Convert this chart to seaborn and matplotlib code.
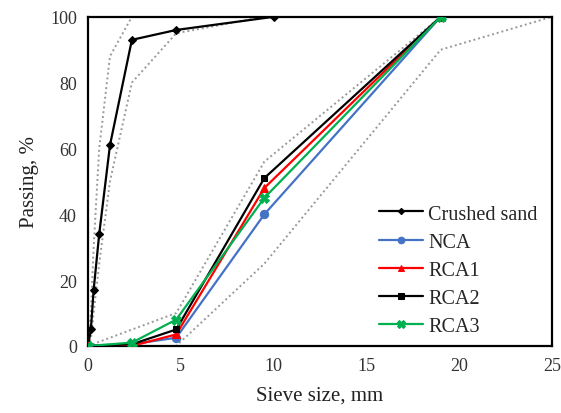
import matplotlib
matplotlib.use("Agg")
import matplotlib.pyplot as plt
import seaborn as sns
import pandas as pd

sns.set_theme(style="white")
plt.rcParams['font.family'] = ['Liberation Serif', 'DejaVu Serif']

# Data
sand_x = [0.0, 0.15, 0.3, 0.6, 1.18, 2.36, 4.75, 10.0]
sand_y = [0, 5, 17, 34, 61, 93, 96, 100]

coarse_x = [0.0, 2.36, 4.75, 9.5, 19.0]
nca_y = [0, 0.5, 2.5, 40, 100]
rca1_y = [0, 0, 3.5, 48, 100]
rca2_y = [0, 0.5, 5, 51, 100]
rca3_y = [0, 1, 8, 45, 100]

sand_up_x = [0.0, 0.15, 0.3, 0.6, 1.18, 2.36, 4.75, 9.5]
sand_up_y = [0, 10, 30, 60, 88, 100, 100, 100]
sand_lo_x = [0.0, 0.15, 0.3, 0.6, 1.18, 2.36, 4.75, 9.5]
sand_lo_y = [0, 2, 10, 25, 50, 80, 95, 100]

coarse_up_x = [0.0, 4.75, 9.5, 19.0, 25.0]
coarse_up_y = [0, 10, 56, 100, 100]
coarse_lo_x = [0.0, 4.75, 9.5, 19.0, 25.0]
coarse_lo_y = [0, 0, 25, 90, 100]

series = [
    ("Crushed sand", sand_x, sand_y, "black", "D", 4),
    ("NCA", coarse_x, nca_y, "#4472C4", "o", 6),
    ("RCA1", coarse_x, rca1_y, "#FF0000", "^", 6),
    ("RCA2", coarse_x, rca2_y, "black", "s", 5),
    ("RCA3", coarse_x, rca3_y, "#00B050", "X", 7),
]

fig = plt.figure(figsize=(5.61, 4.14), dpi=100)
ax = fig.add_axes([0.157, 0.162, 0.827, 0.795])

for ex, ey in [(sand_up_x, sand_up_y), (sand_lo_x, sand_lo_y),
               (coarse_up_x, coarse_up_y), (coarse_lo_x, coarse_lo_y)]:
    d = pd.DataFrame({"x": ex, "y": ey})
    sns.lineplot(data=d, x="x", y="y", ax=ax, color="#999999", linestyle=(0, (1, 1.5)),
                 linewidth=1.4, legend=False, sort=False, zorder=1)

for name, xs, ys, col, mk, ms in series:
    d = pd.DataFrame({"x": xs, "y": ys})
    sns.lineplot(data=d, x="x", y="y", ax=ax, color=col, marker=mk, markersize=ms,
                 markeredgecolor=col, linewidth=1.6, label=name, sort=False, zorder=3)

ax.set_xlim(0, 25)
ax.set_ylim(0, 100)
ax.set_xticks([0, 5, 10, 15, 20, 25])
ax.set_yticks([0, 20, 40, 60, 80, 100])
ax.set_xlabel("Sieve size, mm", fontsize=15, color="#222222", labelpad=8)
ax.set_ylabel("Passing, %", fontsize=15, color="#222222", labelpad=8)
ax.tick_params(axis="both", labelsize=13, colors="#333333", length=0, pad=8)
for s in ax.spines.values():
    s.set_color("black")
    s.set_linewidth(1.6)

leg = ax.legend(loc="upper left", fontsize=14.5, frameon=False,
                handlelength=2.2, handletextpad=0.25, markerscale=0.8,
                labelspacing=0.45, borderpad=0.0, borderaxespad=0.0,
                bbox_to_anchor=(0.627, 0.43))

fig.savefig("out.png", dpi=100)
